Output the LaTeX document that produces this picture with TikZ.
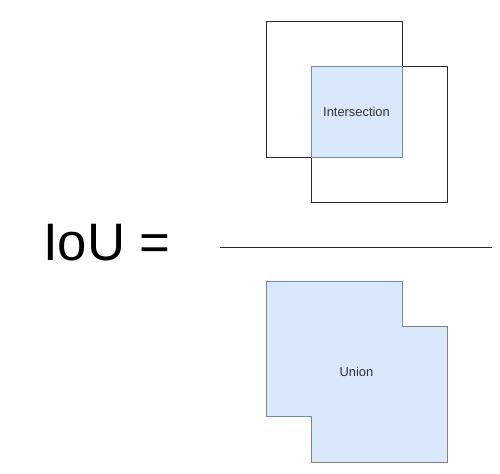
\documentclass[tikz,border=0pt]{standalone}
\usepackage{fontspec}
\setmainfont{Liberation Sans}
\usetikzlibrary{positioning}
\definecolor{iouBlue}{HTML}{DAE8FC}
\definecolor{iouEdge}{HTML}{6C8EBF}
\definecolor{darkText}{HTML}{333333}
\definecolor{boxLine}{HTML}{2B2B2B}
\tikzset{
    sqbox/.style={
        rectangle,
        draw=boxLine,
        line width=0.8pt,
        minimum size=4.08cm,
        inner sep=0pt
    },
    interbox/.style={
        rectangle,
        draw=iouEdge,
        fill=iouBlue,
        line width=0.8pt,
        minimum size=2.73cm,
        inner sep=0pt,
        font=\fontsize{11}{13}\selectfont,
        text=darkText
    },
    labeltext/.style={font=\fontsize{11}{13}\selectfont, text=darkText},
    bigtext/.style={font=\fontsize{45}{54}\selectfont, inner sep=0pt},
    fracline/.style={draw=boxLine, line width=0.8pt}
}
\begin{document}
\begin{tikzpicture}[x=0.03cm, y=-0.03cm]
    \useasboundingbox (0,0) rectangle (500,474);

    % numerator: two boxes and their overlap
    \node[sqbox] (boxA) at (334,89) {};
    \node[sqbox] (boxB) at (379,134) {};
    \node[interbox] (inter) at (356.5,111.5) {Intersection};

    % fraction bar
    \node[bigtext, anchor=base west] (iou) at (43,260) {IoU =};
    \coordinate (barL) at (220,247);
    \coordinate (barR) at (492,247);
    \draw[fracline] (barL) -- (barR);

    % denominator: union of both boxes
    \fill[iouBlue] (266,281) -- (402,281) -- (402,326) -- (447,326) -- (447,462)
        -- (311,462) -- (311,416) -- (266,416) -- cycle;
    \draw[iouEdge, line width=0.8pt] (402,326) -- (402,281) -- (266,281) -- (266,416) -- (311,416);
    \draw[gray, line width=0.8pt] (402,326) -- (447,326) -- (447,462) -- (311,462) -- (311,416);
    \node[labeltext] (union) at (356.5,371.5) {Union};
\end{tikzpicture}
\end{document}
